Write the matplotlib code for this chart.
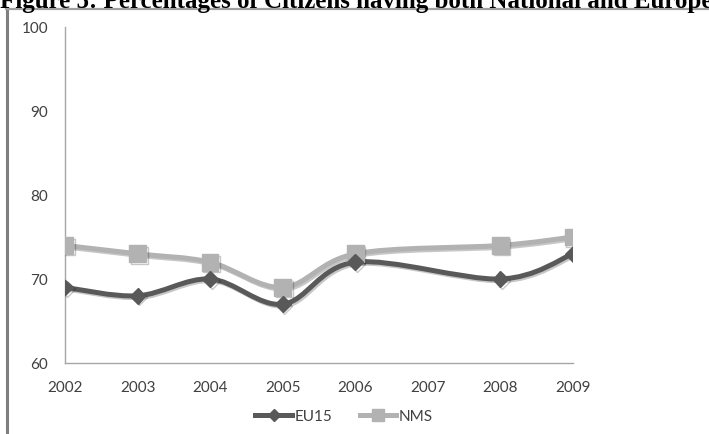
import matplotlib.pyplot as plt
from matplotlib.path import Path
from matplotlib.patches import PathPatch
from matplotlib.lines import Line2D
import matplotlib.patheffects as pe

years = [2002, 2003, 2004, 2005, 2006, 2007, 2008, 2009]
# no survey value for 2007
eu15_years = [2002, 2003, 2004, 2005, 2006, 2008, 2009]
eu15 = [69, 68, 70, 67, 72, 70, 73]
nms_years = [2002, 2003, 2004, 2005, 2006, 2008, 2009]
nms = [74, 73, 72, 69, 73, 74, 75]
yticks = [60, 70, 80, 90, 100]

title = "Figure 5: Percentages of Citizens having both National and Europe"

EU_COL = "#595959"
NMS_COL = "#b2b2b2"


def smooth_path(xs, ys):
    # Catmull-Rom style bezier through the points (like spreadsheet "smoothed line")
    n = len(xs)
    verts = [(xs[0], ys[0])]
    codes = [Path.MOVETO]
    for i in range(n - 1):
        p0 = i - 1 if i > 0 else i
        p3 = i + 2 if i + 2 < n else i + 1
        c1 = (xs[i] + (xs[i + 1] - xs[p0]) / 6, ys[i] + (ys[i + 1] - ys[p0]) / 6)
        c2 = (xs[i + 1] - (xs[p3] - xs[i]) / 6, ys[i + 1] - (ys[p3] - ys[i]) / 6)
        verts += [c1, c2, (xs[i + 1], ys[i + 1])]
        codes += [Path.CURVE4] * 3
    return Path(verts, codes)


fig = plt.figure(figsize=(7.09, 4.35), dpi=100)
W, H = 709, 435
ax = fig.add_axes([65 / W, (H - 364) / H, (573 - 65) / W, (364 - 28) / H])

shadow = [pe.SimpleLineShadow(offset=(1.2, -1.2), alpha=0.22, shadow_color="#000000"), pe.Normal()]

for xs, ys, col, mk, ms in [(nms_years, nms, NMS_COL, "s", 12),
                            (eu15_years, eu15, EU_COL, "D", 8)]:
    patch = PathPatch(smooth_path(xs, ys), facecolor="none", edgecolor=col,
                      lw=3.6, capstyle="round", joinstyle="round", zorder=2)
    patch.set_path_effects(shadow)
    ax.add_patch(patch)
    ax.plot(xs, ys, ls="none", marker=mk, ms=ms, color=col, zorder=3,
            path_effects=shadow)

ax.set_xlim(2002, 2009)
ax.set_ylim(60, 100)
ax.set_xticks(years)
ax.set_yticks(yticks)
ax.set_xticklabels([str(y) for y in years])
for s in ["top", "right"]:
    ax.spines[s].set_visible(False)
for s in ["left", "bottom"]:
    ax.spines[s].set_color("#a6a6a6")
    ax.spines[s].set_linewidth(1.0)
ax.tick_params(length=0, labelsize=11, labelcolor="#404040")
ax.tick_params(axis="x", pad=12)
ax.tick_params(axis="y", pad=12)
for lab in ax.get_xticklabels() + ax.get_yticklabels():
    lab.set_fontfamily("Lato")

# legend
h_eu = Line2D([], [], color=EU_COL, lw=3.6, marker="D", ms=6)
h_nms = Line2D([], [], color=NMS_COL, lw=3.6, marker="s", ms=9)
fig.legend([h_eu, h_nms], ["EU15", "NMS"], loc="center", bbox_to_anchor=(344 / W, 1 - 417 / H),
           ncol=2, frameon=False, handlelength=2.4, handletextpad=0.15, columnspacing=1.8,
           prop={"family": "Lato", "size": 11}, labelcolor="#404040")

# chart area border and caption
fig.add_artist(Line2D([7 / W, 7 / W], [0, 1 - 10 / H], color="#7f7f7f", lw=2.2))
fig.add_artist(Line2D([6 / W, 1], [1 - 10 / H, 1 - 10 / H], color="#a0a0a0", lw=1.6))
fig.text(0, 1 - 8 / H, title, fontfamily="Liberation Serif", fontweight="bold",
         fontsize=18, va="baseline", ha="left")

fig.savefig("out.png", dpi=100)
